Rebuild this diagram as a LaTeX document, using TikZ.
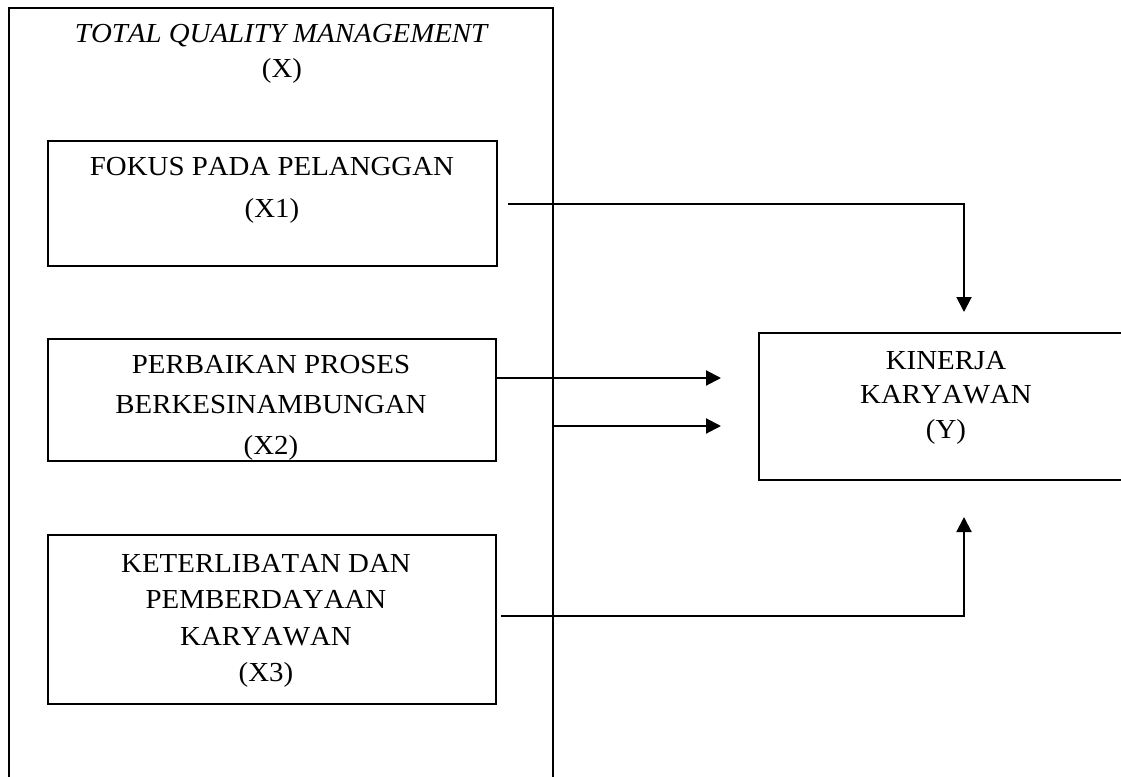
\documentclass[tikz,border=0pt]{standalone}
\usepackage{fontspec}
\setmainfont[Kerning=Off,FakeStretch=1.05]{Liberation Serif}
\usetikzlibrary{arrows.meta}
\begin{document}
\begin{tikzpicture}[x=1pt,y=-1pt,
  box/.style={draw,line width=2pt,rectangle,inner sep=0pt,anchor=north west},
  lbl/.style={anchor=north,align=center,inner sep=0pt,font=\fontsize{27.5}{#1}\selectfont},
  lbl/.default=38,
  arr/.style={line width=2pt,-{Triangle[length=15pt,width=15pt]}}]
\useasboundingbox (0,0) rectangle (1121,776);
\begin{scope}
\clip (0,0) rectangle (1121,776);
\node[box,minimum width=544pt,minimum height=820pt] (x) at (8,7) {};
\node[box,minimum width=410pt,minimum height=147pt] (y) at (758,332) {};
\end{scope}
\node[lbl=35] (xt) at (282,24) {\textit{TOTAL QUALITY MANAGEMENT}\\(X)};
\node[box,minimum width=449pt,minimum height=125pt] (x1) at (47,140) {};
\node[lbl=42] (x1t) at (272,157) {FOKUS PADA PELANGGAN\\(X1)};
\node[box,minimum width=448pt,minimum height=122pt] (x2) at (47,338) {};
\node[lbl=40.5] (x2t) at (271,355) {PERBAIKAN PROSES\\BERKESINAMBUNGAN\\(X2)};
\node[box,minimum width=448pt,minimum height=169pt] (x3) at (47,534) {};
\node[lbl=36.5] (x3t) at (266,554) {KETERLIBATAN DAN\\PEMBERDAYAAN\\KARYAWAN\\(X3)};
\node[lbl=34.5] (yt) at (946,351) {KINERJA\\KARYAWAN\\(Y)};
\coordinate (a1) at (721,378);
\coordinate (a2) at (721,426);
\draw[arr] ([xshift=10pt]x1.east) -| ([yshift=20pt]y.north);
\draw[arr] (x2.east |- a1) -- (a1);
\draw[arr] (x.east |- a2) -- (a2);
\draw[arr] ([xshift=4pt,yshift=4pt]x3.east) -| ([yshift=-36pt]y.south);
\end{tikzpicture}
\end{document}
